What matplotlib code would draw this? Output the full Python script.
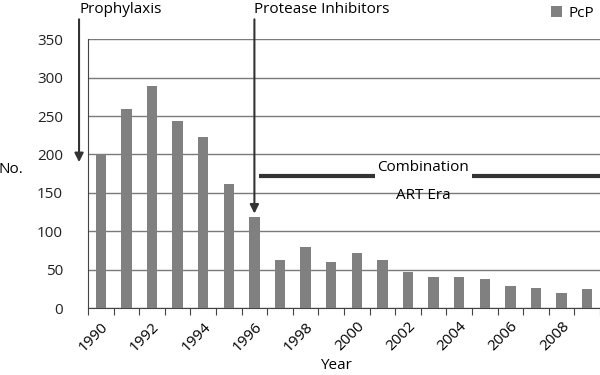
import matplotlib
matplotlib.use("Agg")
import matplotlib.pyplot as plt
import numpy as np

years = list(range(1990, 2010))
pcp = [200, 259, 289, 243, 223, 161, 119, 62, 80, 60, 72, 63, 47, 40, 40, 38, 29, 26, 19, 25]
yticks = [0, 50, 100, 150, 200, 250, 300, 350]

plt.rcParams['font.family'] = ['Open Sans', 'DejaVu Sans']
plt.rcParams['font.size'] = 10

fig = plt.figure(figsize=(6, 3.75), dpi=100)
ax = fig.add_axes([88/600, 67/375, 512/600, 268.7/375])

x = np.arange(len(years))
ax.bar(x, pcp, width=0.4, color='#808080', label='PcP', zorder=3)

ax.set_xlim(-0.5, len(years) - 0.5)
ax.set_ylim(0, 350)
ax.set_yticks(yticks)
ax.yaxis.grid(True, color='#7a7a7a', linewidth=1.0, zorder=0)
ax.tick_params(axis='y', length=0, pad=18, labelsize=11, colors='#222222')

ax.set_xticks(np.arange(-0.5, len(years), 1.0))
ax.set_xticklabels([])
ax.tick_params(axis='x', which='major', length=5, direction='out', color='#444444')
ax.set_xticks(x[::2], minor=True)
ax.set_xticklabels([str(y) for y in years[::2]], minor=True, rotation=45,
                   ha='right', rotation_mode='anchor', fontsize=11)
ax.tick_params(axis='x', which='minor', length=0, pad=8)

for s in ['top', 'right']:
    ax.spines[s].set_visible(False)
ax.spines['left'].set_color('#444444')
ax.spines['bottom'].set_color('#444444')

ax.set_xlabel('Year', fontsize=11)
ax.xaxis.set_label_coords(0.485, -0.215)
ax.xaxis.label.set_va('center')
ax.set_ylabel('No.', fontsize=11, rotation=0)
ax.yaxis.set_label_coords(-0.15, 0.514)
ax.yaxis.label.set_va('center')

arrow = dict(arrowstyle='-|>', color='#333333', lw=1.5, mutation_scale=13, shrinkA=0, shrinkB=0)
ax.annotate('', xy=(-0.85, 190), xytext=(-0.85, 376), arrowprops=arrow, annotation_clip=False)
ax.text(-0.85, 389, 'Prophylaxis', ha='left', va='center', fontsize=11, clip_on=False)
ax.annotate('', xy=(6.0, 123), xytext=(6.0, 376), arrowprops=arrow, annotation_clip=False)
ax.text(5.97, 389, 'Protease Inhibitors', ha='left', va='center', fontsize=11, clip_on=False)

ax.plot([6.18, 10.71], [171.5, 171.5], color='#333333', lw=3, solid_capstyle='butt', zorder=4)
ax.plot([14.5, 19.5], [171.5, 171.5], color='#333333', lw=3, solid_capstyle='butt', zorder=4, clip_on=False)
ax.text(12.6, 183, 'Combination', ha='center', va='center', fontsize=11, zorder=5)
ax.text(12.6, 147, 'ART Era', ha='center', va='center', fontsize=11, zorder=5)

ax.legend(loc='upper right', bbox_to_anchor=(1.0, 1.0), bbox_transform=fig.transFigure,
          frameon=False, handlelength=0.7, handleheight=0.7, handletextpad=0.4,
          borderpad=0.2, borderaxespad=0.2, fontsize=11)

fig.savefig('out.png', dpi=100)
